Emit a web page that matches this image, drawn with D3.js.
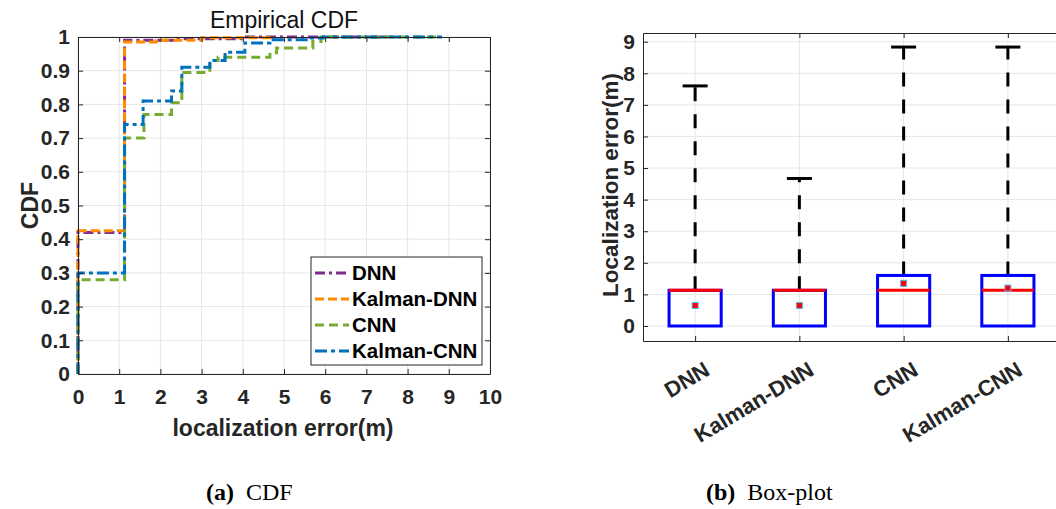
<!DOCTYPE html>
<html>
<head>
<meta charset="utf-8">
<script src="https://cdn.jsdelivr.net/npm/d3@7"></script>
<style>
  body { margin: 0; background: #fff; }
  svg { display: block; }
</style>
</head>
<body>
<svg id="fig" width="1056" height="509"></svg>
<script>
// ---- CDF data (step points) ----
const cdfNames = ['DNN', 'Kalman-DNN', 'CNN', 'Kalman-CNN'];
const dnnX = [0, 0, 1.13, 2.3, 4.0, 7.6];
const dnnY = [0, 0.42, 0.99, 0.995, 1, 1];
const kdnnX = [0, 0, 1.13, 1.9, 3.0, 4.67];
const kdnnY = [0, 0.425, 0.985, 0.99, 0.998, 1];
const cnnX = [0, 0, 1.13, 1.6, 2.27, 2.52, 3.2, 3.4, 4.66, 4.82, 5.7, 5.9, 8.83];
const cnnY = [0, 0.28, 0.70, 0.77, 0.805, 0.895, 0.93, 0.94, 0.953, 0.967, 0.987, 1, 1];
const kcnnX = [0, 0, 1.13, 1.58, 2.27, 2.52, 3.2, 3.57, 4.05, 4.66, 5.63, 5.95, 8.83];
const kcnnY = [0, 0.30, 0.74, 0.81, 0.84, 0.91, 0.93, 0.955, 0.982, 0.992, 0.997, 1, 1];
const cdfXTicks = [0, 1, 2, 3, 4, 5, 6, 7, 8, 9, 10];
const cdfYTicks = [0, 0.1, 0.2, 0.3, 0.4, 0.5, 0.6, 0.7, 0.8, 0.9, 1];

// ---- box plot data ----
const boxNames = ['DNN', 'Kalman-DNN', 'CNN', 'Kalman-CNN'];
const boxQ1 = [0, 0, 0, 0];
const boxMedian = [1.13, 1.13, 1.13, 1.13];
const boxQ3 = [1.13, 1.13, 1.6, 1.6];
const boxWhiskerHi = [7.6, 4.67, 8.83, 8.83];
const boxMean = [0.65, 0.65, 1.35, 1.2];
const boxYTicks = [0, 1, 2, 3, 4, 5, 6, 7, 8, 9];

const svg = d3.select('#fig');
const SANS = '"Liberation Sans", Arial, sans-serif';
const AXIS_COLOR = '#262626';
const GRID_COLOR = '#e6e6e6';

function styleAxis(a, size) {
  a.attr('font-family', SANS).attr('font-size', size).attr('font-weight', 'bold');
  a.select('.domain').attr('stroke', AXIS_COLOR);
  a.selectAll('.tick line').attr('stroke', AXIS_COLOR);
  a.selectAll('.tick text').attr('fill', AXIS_COLOR);
}

// ================= (a) CDF =================
const cdf = { left: 78, right: 490, top: 37, bottom: 374 };
const xC = d3.scaleLinear().domain([0, 10]).range([cdf.left, cdf.right]);
const yC = d3.scaleLinear().domain([0, 1]).range([cdf.bottom, cdf.top]);
const gA = svg.append('g');

gA.append('g').selectAll('line').data(cdfXTicks).enter().append('line')
  .attr('x1', d => xC(d)).attr('x2', d => xC(d))
  .attr('y1', cdf.top).attr('y2', cdf.bottom)
  .attr('stroke', GRID_COLOR).attr('stroke-width', 1);
gA.append('g').selectAll('line').data(cdfYTicks).enter().append('line')
  .attr('y1', d => yC(d)).attr('y2', d => yC(d))
  .attr('x1', cdf.left).attr('x2', cdf.right)
  .attr('stroke', GRID_COLOR).attr('stroke-width', 1);

const series = [
  { xs: dnnX, ys: dnnY, color: '#7E2F8E', dash: '10,4,3,4' },
  { xs: kdnnX, ys: kdnnY, color: '#FF8C00', dash: '9,4' },
  { xs: cnnX, ys: cnnY, color: '#77AC30', dash: '9,5' },
  { xs: kcnnX, ys: kcnnY, color: '#0072BD', dash: '12,4,4,4' }
];
const stepLine = d3.line().x(d => xC(d[0])).y(d => yC(d[1])).curve(d3.curveStepAfter);
series.forEach(s => {
  gA.append('path')
    .datum(s.xs.map((x, i) => [x, s.ys[i]]))
    .attr('fill', 'none')
    .attr('stroke', s.color)
    .attr('stroke-width', 3)
    .attr('stroke-dasharray', s.dash)
    .attr('d', stepLine);
});

// axes (box style with inward ticks)
const axB = gA.append('g').attr('transform', `translate(0,${cdf.bottom})`)
  .call(d3.axisBottom(xC).tickValues(cdfXTicks).tickSizeInner(-5).tickSizeOuter(0).tickPadding(15));
const axT = gA.append('g').attr('transform', `translate(0,${cdf.top})`)
  .call(d3.axisTop(xC).tickValues(cdfXTicks).tickSizeInner(-5).tickSizeOuter(0).tickFormat(''));
const axL = gA.append('g').attr('transform', `translate(${cdf.left},0)`)
  .call(d3.axisLeft(yC).tickValues(cdfYTicks).tickSizeInner(-5).tickSizeOuter(0).tickPadding(8).tickFormat(d3.format('~g')));
const axR = gA.append('g').attr('transform', `translate(${cdf.right},0)`)
  .call(d3.axisRight(yC).tickValues(cdfYTicks).tickSizeInner(-5).tickSizeOuter(0).tickFormat(''));
[axB, axT, axL, axR].forEach(a => styleAxis(a, 21));

gA.append('text').attr('x', 284).attr('y', 28)
  .attr('text-anchor', 'middle')
  .attr('font-family', SANS).attr('font-size', 23).attr('fill', '#111')
  .text('Empirical CDF');
gA.append('text').attr('x', 283).attr('y', 436)
  .attr('text-anchor', 'middle')
  .attr('font-family', SANS).attr('font-weight', 'bold').attr('font-size', 23).attr('fill', AXIS_COLOR)
  .text('localization error(m)');
gA.append('text').attr('transform', `translate(38,${(cdf.top + cdf.bottom) / 2}) rotate(-90)`)
  .attr('text-anchor', 'middle')
  .attr('font-family', SANS).attr('font-weight', 'bold').attr('font-size', 23).attr('fill', AXIS_COLOR)
  .text('CDF');

// legend
const leg = gA.append('g').attr('transform', 'translate(311,257)');
leg.append('rect').attr('width', 171).attr('height', 108)
  .attr('fill', '#fff').attr('stroke', AXIS_COLOR).attr('stroke-width', 1);
cdfNames.forEach((name, i) => {
  const y = 16 + i * 26;
  leg.append('line').attr('x1', 4).attr('x2', 38).attr('y1', y).attr('y2', y)
    .attr('stroke', series[i].color).attr('stroke-width', 3).attr('stroke-dasharray', series[i].dash);
  leg.append('text').attr('x', 41).attr('y', y + 7)
    .attr('font-family', SANS).attr('font-weight', 'bold').attr('font-size', 20.5).attr('fill', '#000')
    .text(name);
});

// ================= (b) Box plot =================
const bx = { left: 643, right: 1060, top: 33, bottom: 341 };
const xB = d3.scaleLinear().domain([0.5, 4.5]).range([bx.left, bx.right]);
const yB = d3.scaleLinear().domain([-0.475, 9.275]).range([bx.bottom, bx.top]);
const gB = svg.append('g');
const pos = boxNames.map((d, i) => i + 1);

gB.append('g').selectAll('line').data(pos).enter().append('line')
  .attr('x1', d => xB(d)).attr('x2', d => xB(d))
  .attr('y1', bx.top).attr('y2', bx.bottom)
  .attr('stroke', GRID_COLOR);
gB.append('g').selectAll('line').data(boxYTicks).enter().append('line')
  .attr('y1', d => yB(d)).attr('y2', d => yB(d))
  .attr('x1', bx.left).attr('x2', bx.right)
  .attr('stroke', GRID_COLOR);

const halfBox = 0.25, halfCap = 0.12;
pos.forEach((p, i) => {
  // whisker
  gB.append('line').attr('x1', xB(p)).attr('x2', xB(p))
    .attr('y1', yB(boxQ3[i])).attr('y2', yB(boxWhiskerHi[i]))
    .attr('stroke', '#000').attr('stroke-width', 3).attr('stroke-dasharray', '14,13');
  gB.append('line').attr('x1', xB(p - halfCap)).attr('x2', xB(p + halfCap))
    .attr('y1', yB(boxWhiskerHi[i])).attr('y2', yB(boxWhiskerHi[i]))
    .attr('stroke', '#000').attr('stroke-width', 3);
  // box
  gB.append('rect').attr('x', xB(p - halfBox)).attr('width', xB(p + halfBox) - xB(p - halfBox))
    .attr('y', yB(boxQ3[i])).attr('height', yB(boxQ1[i]) - yB(boxQ3[i]))
    .attr('fill', 'none').attr('stroke', '#0000FF').attr('stroke-width', 3);
  // median
  gB.append('line').attr('x1', xB(p - halfBox)).attr('x2', xB(p + halfBox))
    .attr('y1', yB(boxMedian[i])).attr('y2', yB(boxMedian[i]))
    .attr('stroke', '#FF0000').attr('stroke-width', 3);
  // mean
  gB.append('rect').attr('x', xB(p) - 3).attr('y', yB(boxMean[i]) - 3)
    .attr('width', 6).attr('height', 6)
    .attr('fill', '#FF0000').attr('stroke', '#4DBEEE').attr('stroke-width', 1);
});

const bAxB = gB.append('g').attr('transform', `translate(0,${bx.bottom})`)
  .call(d3.axisBottom(xB).tickValues(pos).tickSizeInner(-5).tickSizeOuter(0).tickFormat(''));
const bAxT = gB.append('g').attr('transform', `translate(0,${bx.top})`)
  .call(d3.axisTop(xB).tickValues(pos).tickSizeInner(-5).tickSizeOuter(0).tickFormat(''));
const bAxL = gB.append('g').attr('transform', `translate(${bx.left},0)`)
  .call(d3.axisLeft(yB).tickValues(boxYTicks).tickSizeInner(-5).tickSizeOuter(0).tickPadding(8));
[bAxB, bAxT, bAxL].forEach(a => styleAxis(a, 21));

gB.append('g').selectAll('text').data(boxNames).enter().append('text')
  .attr('text-anchor', 'end')
  .attr('font-family', SANS).attr('font-weight', 'bold').attr('font-size', 22).attr('fill', AXIS_COLOR)
  .attr('transform', (d, i) => `translate(${xB(i + 1) + 16},${bx.bottom + 33}) rotate(-31)`)
  .text(d => d);

gB.append('text').attr('transform', `translate(618,185) rotate(-90)`)
  .attr('text-anchor', 'middle')
  .attr('font-family', SANS).attr('font-weight', 'bold').attr('font-size', 22.5).attr('fill', AXIS_COLOR)
  .text('Localization error(m)');

// ================= captions =================
const SERIF = '"Liberation Serif", "DejaVu Serif", serif';
const capA = svg.append('text').attr('x', 206).attr('y', 500)
  .attr('font-family', SERIF).attr('font-size', 24).attr('fill', '#000');
capA.append('tspan').attr('font-weight', 'bold').text('(a)');
capA.append('tspan').attr('dx', 12).text('CDF');
const capB = svg.append('text').attr('x', 706).attr('y', 500)
  .attr('font-family', SERIF).attr('font-size', 24).attr('fill', '#000');
capB.append('tspan').attr('font-weight', 'bold').text('(b)');
capB.append('tspan').attr('dx', 12).text('Box-plot');
</script>
</body>
</html>
